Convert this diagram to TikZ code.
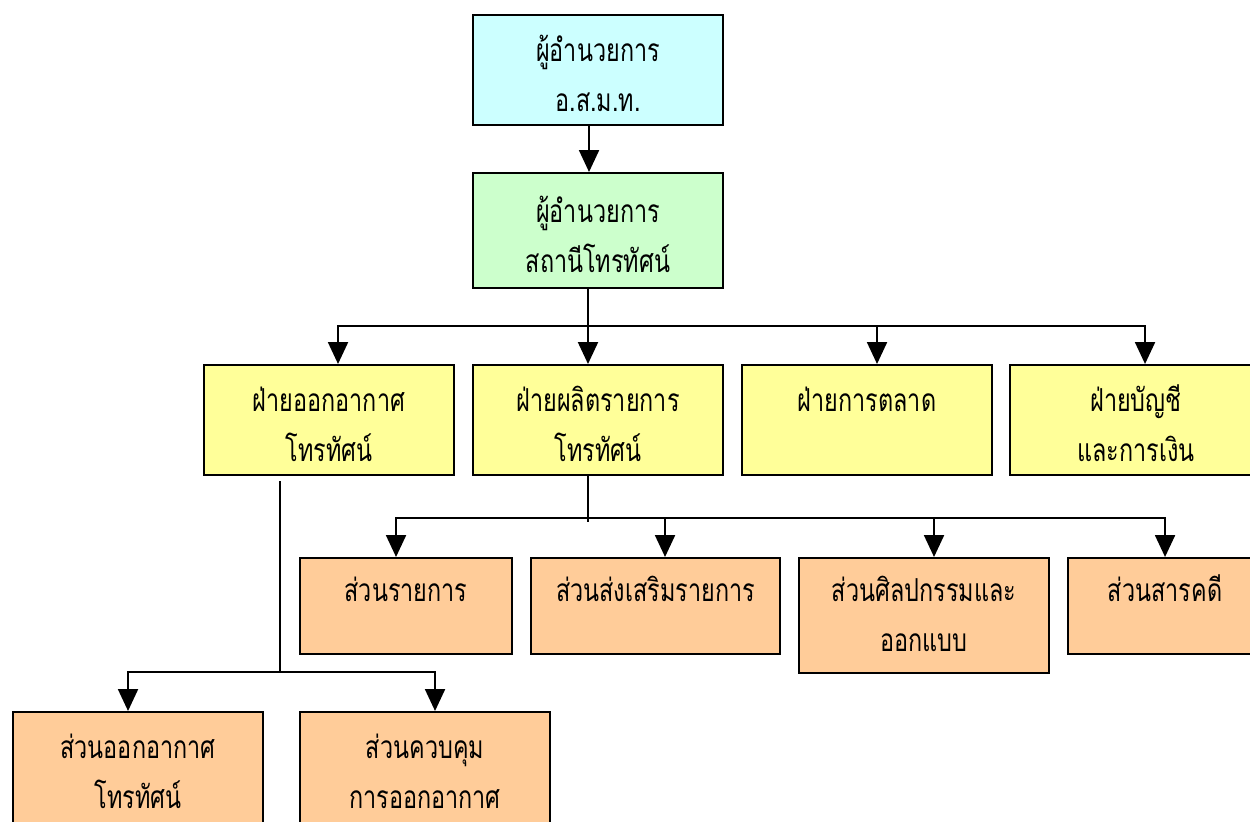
\documentclass[tikz,border=0pt]{standalone}
\usepackage{fontspec}
\newfontfamily\thaifont[Script=Thai, FakeStretch=0.74]{Loma}
\usetikzlibrary{arrows.meta}
\definecolor{boxcyan}{HTML}{CCFFFF}
\definecolor{boxgreen}{HTML}{CCFFCC}
\definecolor{boxyellow}{HTML}{FFFF99}
\definecolor{boxorange}{HTML}{FFCC99}

\begin{document}
\begin{tikzpicture}[x=0.02cm, y=-0.02cm,
    unit/.style={draw, line width=1.2pt, anchor=north west, inner sep=0pt,
      minimum width=5cm, minimum height=2.2cm},
    unittext/.style={anchor=north, align=center, inner sep=0pt,
      font=\thaifont\fontsize{18}{28.45}\selectfont, text height=0.94cm},
    twolines/.style={unittext, text height=1.94cm},
    link/.style={line width=1.2pt},
    arrow/.style={link, -{Triangle[length=0.44cm, width=0.4cm]}}]
  %%%%% START %%%%%
  \clip (0,0) rectangle (1250,821);

  % top
  \node[unit, fill=boxcyan] (dir) at (472,14) {};
  \node[twolines] (dirT) at (dir.north) {ผู้อำนวยการ\\อ.ส.ม.ท.};
  \node[unit, fill=boxgreen, minimum height=2.3cm] (stn) at (472,172) {};
  \node[twolines] (stnT) at ([yshift=-0.06cm]stn.north) {ผู้อำนวยการ\\สถานีโทรทัศน์};

  % departments
  \node[unit, fill=boxyellow] (air) at (203,364) {};
  \node[twolines] (airT) at (air.north) {ฝ่ายออกอากาศ\\โทรทัศน์};
  \node[unit, fill=boxyellow] (prod) at (472,364) {};
  \node[twolines] (prodT) at (prod.north) {ฝ่ายผลิตรายการ\\โทรทัศน์};
  \node[unit, fill=boxyellow] (mkt) at (741,364) {};
  \node[unittext] (mktT) at (mkt.north) {ฝ่ายการตลาด};
  \node[unit, fill=boxyellow, minimum width=5.04cm] (acc) at (1009,364) {};
  \node[twolines] (accT) at (acc.north) {ฝ่ายบัญชี\\และการเงิน};

  % sections under production
  \node[unit, fill=boxorange, minimum width=4.24cm, minimum height=1.92cm] (prog) at (299,557) {};
  \node[unittext] (progT) at ([yshift=0.06cm]prog.north) {ส่วนรายการ};
  \node[unit, fill=boxorange, minimum width=4.98cm, minimum height=1.92cm] (promo) at (530,557) {};
  \node[unittext] (promoT) at ([yshift=0.06cm]promo.north) {ส่วนส่งเสริมรายการ};
  \node[unit, fill=boxorange, minimum height=2.3cm] (art) at (798,557) {};
  \node[twolines] (artT) at ([yshift=0.06cm]art.north) {ส่วนศิลปกรรมและ\\ออกแบบ};
  \node[unit, fill=boxorange, minimum width=3.88cm, minimum height=1.92cm] (doc) at (1067,557) {};
  \node[unittext] (docT) at ([yshift=0.06cm]doc.north) {ส่วนสารคดี};

  % sections under broadcasting
  \node[unit, fill=boxorange, minimum height=2.3cm] (bcast) at (12,711) {};
  \node[twolines] (bcastT) at (bcast.north) {ส่วนออกอากาศ\\โทรทัศน์};
  \node[unit, fill=boxorange, minimum height=2.3cm] (ctrl) at (299,711) {};
  \node[twolines] (ctrlT) at (ctrl.north) {ส่วนควบคุม\\การออกอากาศ};

  % connectors
  \coordinate (busA) at (588,326);
  \coordinate (busB) at (588,518);
  \coordinate (busC) at (280,672);

  \draw[arrow] ([xshift=-0.18cm]dir.south) -- ([xshift=-0.18cm]stn.north);
  \draw[link] (stn.south -| busA) -- (busA);
  \draw[arrow] (busA) -| ([xshift=0.18cm]air.north);
  \draw[arrow] (busA) -- (prod.north -| busA);
  \draw[arrow] (busA) -| ([xshift=0.2cm]mkt.north);
  \draw[arrow] (busA) -| ([xshift=0.18cm]acc.north);

  \draw[link] (prod.south -| busB) -- ([yshift=-0.08cm]busB);
  \draw[arrow] (busB) -| ([xshift=-0.2cm]prog.north);
  \draw[arrow] (busB) -| ([xshift=0.19cm]promo.north);
  \draw[arrow] (busB) -| ([xshift=0.2cm]art.north);
  \draw[arrow] (busB) -| (doc.north);

  \draw[link] ([yshift=-0.1cm]air.south -| busC) -- (busC);
  \draw[arrow] (busC) -| ([xshift=-0.2cm]bcast.north);
  \draw[arrow] (busC) -| ([xshift=0.2cm]ctrl.north);
  %%%%% END %%%%%
\end{tikzpicture}
\end{document}
